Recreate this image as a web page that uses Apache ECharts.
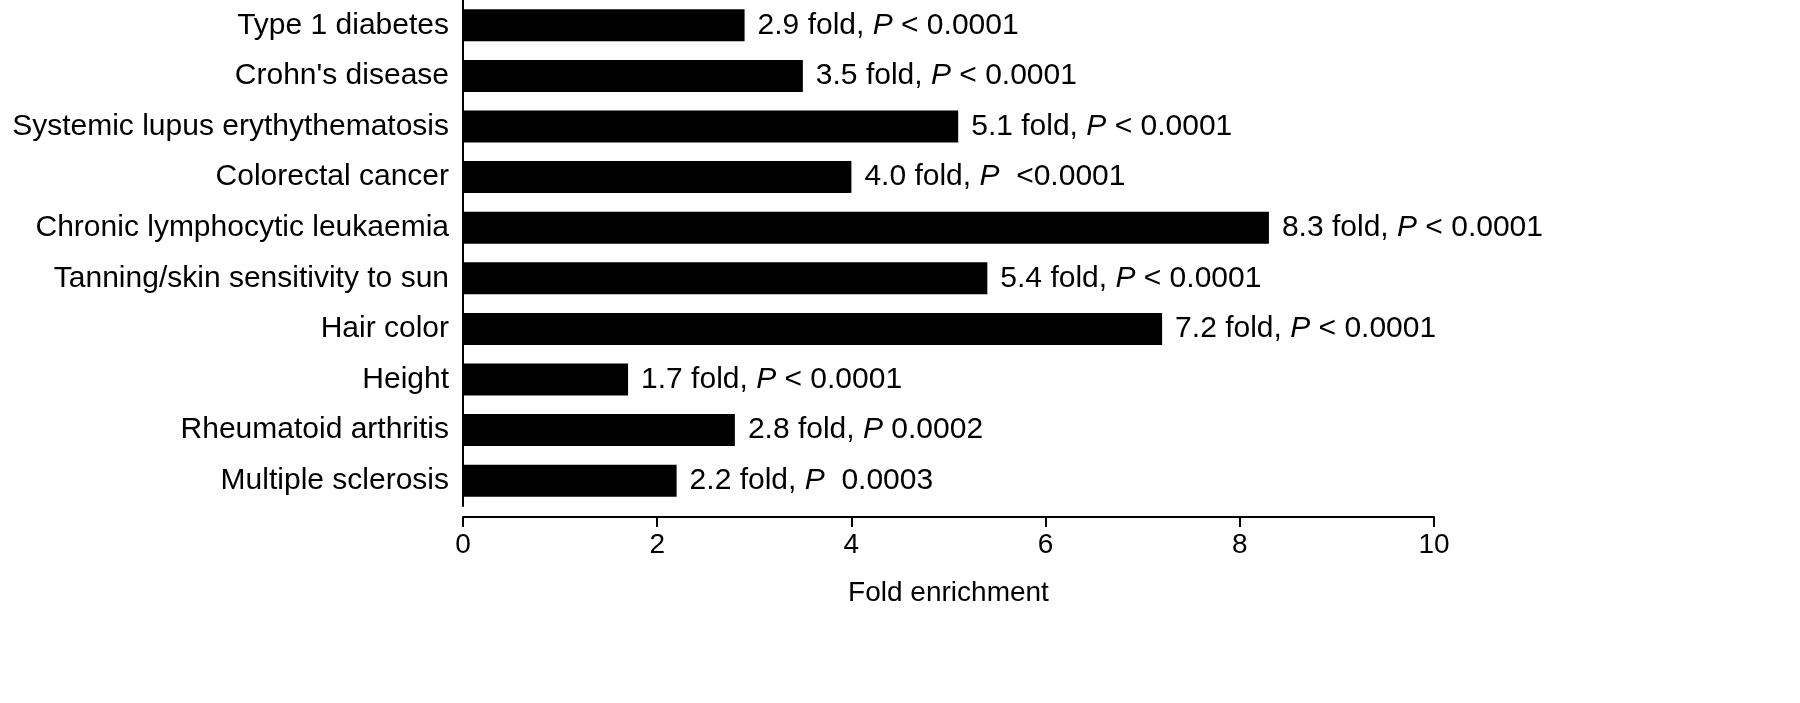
<!DOCTYPE html>
<html><head><meta charset="utf-8">
<script src="https://cdn.jsdelivr.net/npm/echarts@6/dist/echarts.min.js"></script>
<style>html,body{margin:0;background:#fff}#c{width:1800px;height:703px}</style>
</head><body><div id="c"></div>
<script>
const categories=["Type 1 diabetes","Crohn's disease","Systemic lupus erythythematosis","Colorectal cancer","Chronic lymphocytic leukaemia","Tanning/skin sensitivity to sun","Hair color","Height","Rheumatoid arthritis","Multiple sclerosis"];
const values=[2.9,3.5,5.1,4.0,8.3,5.4,7.2,1.7,2.8,2.2];
const pTexts=[" < 0.0001"," < 0.0001"," < 0.0001","  <0.0001"," < 0.0001"," < 0.0001"," < 0.0001"," < 0.0001"," 0.0002","  0.0003"];
const xTicks=[0,2,4,6,8,10];
const chart=echarts.init(document.getElementById('c'));
chart.setOption({
  animation:false,
  grid:{left:463,right:366,top:-5,height:511},
  xAxis:{type:'value',min:0,max:10,interval:2,offset:11,
    axisLine:{show:true,lineStyle:{color:'#000',width:2}},
    axisTick:{show:true,length:10,lineStyle:{color:'#000',width:2}},
    splitLine:{show:false},
    axisLabel:{color:'#000',fontSize:28,fontFamily:'Liberation Sans',margin:14},
    name:'Fold enrichment',nameLocation:'middle',nameGap:62,
    nameTextStyle:{color:'#000',fontSize:28,fontFamily:'Liberation Sans'}},
  yAxis:{type:'category',inverse:true,data:categories,
    axisLine:{show:true,lineStyle:{color:'#000',width:2}},
    axisTick:{show:false},
    axisLabel:{color:'#000',fontSize:30,fontFamily:'Liberation Sans',margin:14}},
  series:[{type:'bar',barWidth:32,itemStyle:{color:'#000'},
    data:values,
    label:{show:true,position:'right',distance:13,
      formatter:p=>'{n|'+p.value.toFixed(1)+' fold, }{i|P}{n|'+pTexts[p.dataIndex]+'}',
      rich:{n:{fontSize:30,color:'#000',fontFamily:'Liberation Sans'},
            i:{fontSize:30,color:'#000',fontFamily:'Liberation Sans',fontStyle:'italic'}}}}]
});
</script></body></html>
